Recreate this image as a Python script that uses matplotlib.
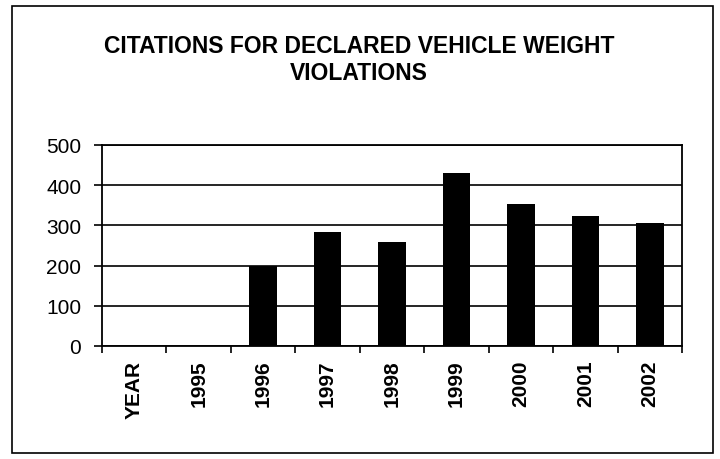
import numpy as np
import matplotlib.pyplot as plt
from matplotlib.patches import Rectangle

plt.rcParams['font.family'] = ['Liberation Sans', 'DejaVu Sans']

categories = ['YEAR', '1995', '1996', '1997', '1998', '1999', '2000', '2001', '2002']
citations = [0, 0, 200, 283, 259, 430, 353, 324, 305]

fig = plt.figure(figsize=(7.2, 4.6), dpi=100)
ax = fig.add_axes([0.1417, 0.2457, 0.8056, 0.437])

x = np.arange(len(categories))
ax.bar(x, citations, width=0.43, color='black', zorder=3)

ax.set_xlim(-0.5, len(categories) - 0.5)
ax.set_ylim(0, 500)
ax.set_yticks(np.arange(0, 501, 100))
ax.yaxis.grid(True, color='black', lw=1.2)
ax.set_axisbelow(True)

ax.set_xticks(x)
ax.set_xticklabels(categories, rotation=90, fontsize=15, fontweight='bold')
ax.set_xticks(np.arange(-0.5, len(categories)), minor=True)
ax.tick_params(axis='x', which='major', length=0, pad=10)
ax.tick_params(axis='x', which='minor', length=5, width=1.2, direction='out')
ax.tick_params(axis='y', labelsize=15, length=6, width=1.2, direction='out',
               pad=9)

for s in ax.spines.values():
    s.set_linewidth(1.3)
    s.set_color('black')

fig.text(0.499, 0.870, 'CITATIONS FOR DECLARED VEHICLE WEIGHT\nVIOLATIONS',
         ha='center', va='center', fontsize=16.5, fontweight='bold',
         linespacing=1.25)

fig.patches.append(Rectangle((0.0167, 0.013), 0.9736, 0.972,
                             transform=fig.transFigure, fill=False,
                             edgecolor='black', lw=1.2))

fig.savefig('out.png', dpi=100)
